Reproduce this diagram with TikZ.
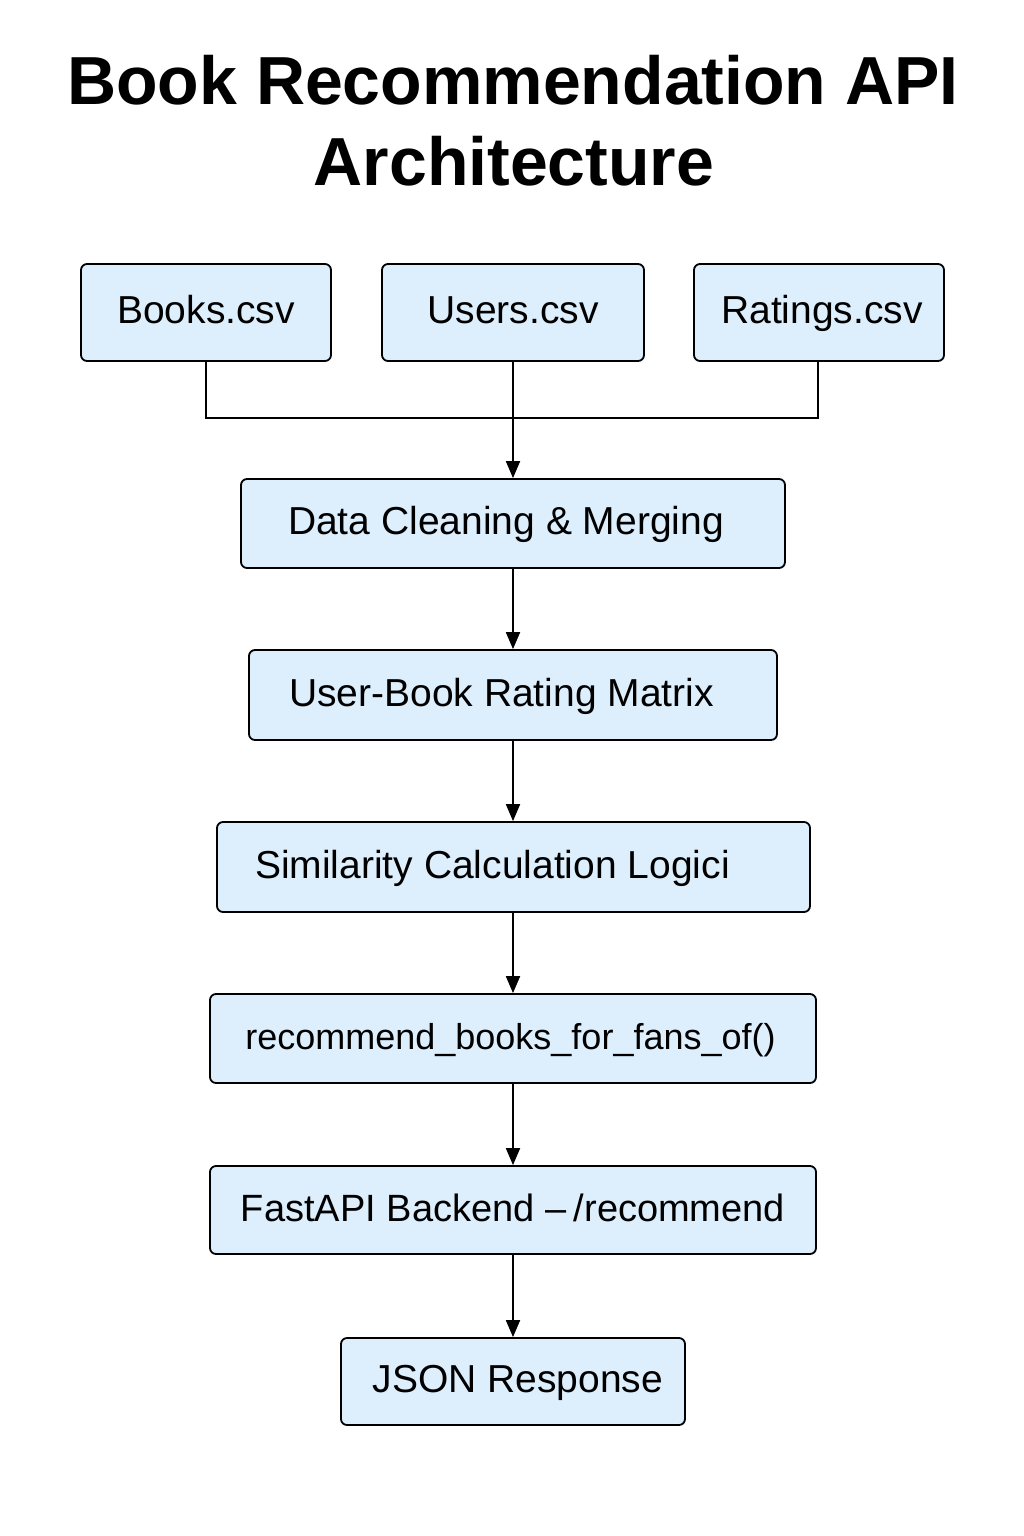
\documentclass[tikz,border=0pt]{standalone}
\usepackage{fontspec}
\setmainfont{Liberation Sans}
\usetikzlibrary{arrows.meta}
\definecolor{boxfill}{HTML}{DDEEFC}
\begin{document}
\begin{tikzpicture}[x=1pt,y=-1pt,
  box/.style={draw=black, line width=1.8pt, fill=boxfill, rounded corners=6pt,
    inner sep=0pt, text height=30pt, text depth=8pt, font=\fontsize{39}{44}\selectfont},
  conn/.style={line width=1.8pt, draw=black},
  arr/.style={conn, -{Triangle[length=17pt,width=14pt]}},
  titlefont/.style={font=\fontsize{68}{80}\selectfont\bfseries}]
\useasboundingbox[fill=white] (0,0) rectangle (1024,1536);
\node[titlefont, anchor=base] (t1) at (513,105) {Book Recommendation API};
\node[titlefont, anchor=base] (t2) at (514,185) {Architecture};

\node[box, minimum width=250pt, minimum height=97pt] (books) at (206,312.5) {Books.csv};
\node[box, minimum width=262pt, minimum height=97pt] (users) at (513,312.5) {Users.csv};
\node[box, minimum width=250pt, minimum height=97pt] (ratings) at (819,312.5) {\kern6pt Ratings.csv};

\node[box, minimum width=544pt, minimum height=89pt] (clean) at (513,523.5) {Data Cleaning \& Merging\kern14pt};
\node[box, minimum width=528pt, minimum height=90pt] (matrix) at (513,695) {User-Book Rating Matrix\kern23pt};
\node[box, minimum width=593pt, minimum height=90pt] (sim) at (513.5,867) {Similarity Calculation Logici\kern42pt};
\node[box, minimum width=606pt, minimum height=89pt, font=\fontsize{36}{42}\selectfont] (rec) at (513,1038.5) {recommend\_books\_for\_fans\_of()\kern5pt};
\node[box, minimum width=606pt, minimum height=88pt, font=\fontsize{38}{44}\selectfont] (fast) at (513,1210) {FastAPI Backend –\kern-3pt\ /recommend};
\node[box, minimum width=344pt, minimum height=87pt] (json) at (513,1381.5) {\kern10pt JSON Response};

\coordinate (jl) at (206,418);
\coordinate (jr) at (818,418);
\draw[conn] (books.south) -- (jl) -- (jr) -- (jr |- ratings.south);
\draw[arr] (users.south) -- (clean.north);
\draw[arr] (clean.south) -- (matrix.north);
\draw[arr] (matrix.south) -- (sim.north -| matrix.south);
\draw[arr] (sim.south -| matrix.south) -- (rec.north);
\draw[arr] (rec.south) -- (fast.north);
\draw[arr] (fast.south) -- (json.north);
\end{tikzpicture}
\end{document}
